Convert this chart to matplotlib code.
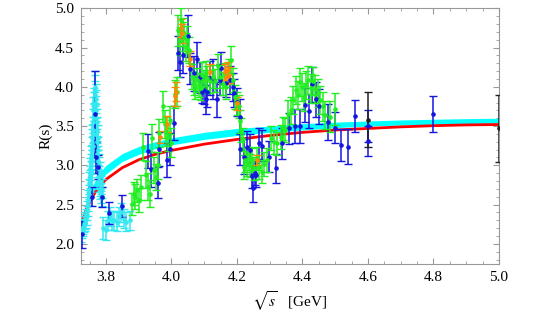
import numpy as np
import matplotlib.pyplot as plt
from matplotlib.ticker import MultipleLocator

plt.rcParams['font.family'] = ['Liberation Serif', 'DejaVu Serif']
plt.rcParams['mathtext.fontset'] = 'stix'

# --- theory curves ---
curve_E = [3.727, 3.74, 3.76, 3.78, 3.80, 3.85, 3.90, 3.95, 4.00, 4.10, 4.20,
           4.30, 4.40, 4.50, 4.60, 4.70, 4.80, 4.90, 5.00]
red_R = [2.27, 2.44, 2.61, 2.73, 2.82, 2.97, 3.07, 3.14, 3.19, 3.27, 3.33,
         3.38, 3.42, 3.45, 3.47, 3.49, 3.505, 3.515, 3.52]
cyan_hi = [2.31, 2.52, 2.75, 2.90, 3.00, 3.15, 3.24, 3.30, 3.35, 3.42, 3.47,
           3.50, 3.53, 3.55, 3.565, 3.578, 3.587, 3.595, 3.60]
cyan_lo = [2.25, 2.44, 2.64, 2.79, 2.89, 3.05, 3.14, 3.21, 3.26, 3.33, 3.38,
           3.42, 3.45, 3.48, 3.50, 3.513, 3.523, 3.532, 3.54]

# --- data sets ---
blue_E = [3.727, 3.757, 3.766, 3.771, 3.775, 3.788, 3.809, 3.849, 3.929, 3.937,
          3.958, 3.963, 3.986, 3.997, 4.008, 4.019, 4.026, 4.036, 4.050, 4.058,
          4.068, 4.079, 4.087, 4.092, 4.100, 4.105, 4.110, 4.117, 4.126, 4.138,
          4.147, 4.152, 4.168, 4.178, 4.189, 4.191, 4.200, 4.210, 4.208, 4.222,
          4.231, 4.239, 4.247, 4.250, 4.254, 4.258, 4.268, 4.276, 4.299, 4.320,
          4.339, 4.360, 4.376, 4.391, 4.407, 4.420, 4.428, 4.441, 4.449, 4.478,
          4.499, 4.519, 4.539, 4.560, 4.600, 4.600, 4.800]
blue_R = [2.12, 2.60, 3.65, 3.10, 2.98, 2.60, 2.39, 2.48, 3.18, 2.95,
          2.78, 3.21, 3.07, 3.21, 3.54, 4.43, 4.32, 4.40, 4.65, 4.23,
          4.17, 4.35, 4.12, 3.94, 3.96, 3.84, 3.94, 4.11, 4.10, 3.84,
          4.09, 4.24, 4.05, 4.09, 4.00, 3.92, 3.81, 3.62, 3.21, 3.11,
          3.24, 3.20, 2.86, 2.71, 2.90, 2.88, 3.28, 3.25, 3.11, 2.96,
          3.28, 3.47, 3.50, 3.50, 3.77, 3.69, 4.03, 3.84, 3.75, 3.55,
          3.48, 3.26, 3.24, 3.63, 3.50, 3.31, 3.65]
blue_err = [0.17, 0.12, 0.55, 0.20, 0.15, 0.13, 0.14, 0.14, 0.22, 0.22,
            0.20, 0.22, 0.22, 0.20, 0.22, 0.22, 0.20, 0.22, 0.27, 0.20,
            0.22, 0.22, 0.20, 0.15, 0.18, 0.18, 0.20, 0.22, 0.25, 0.22,
            0.20, 0.20, 0.18, 0.18, 0.18, 0.18, 0.18, 0.22, 0.20, 0.22,
            0.20, 0.20, 0.15, 0.18, 0.15, 0.15, 0.20, 0.20, 0.20, 0.18,
            0.20, 0.20, 0.22, 0.22, 0.22, 0.22, 0.22, 0.22, 0.22, 0.23,
            0.20, 0.20, 0.22, 0.20, 0.20, 0.19, 0.23]

green_E = [3.879, 3.885, 3.890, 3.895, 3.900, 3.906, 3.913, 3.921, 3.927, 3.934,
           3.942, 3.947, 3.953, 3.958, 3.963, 3.974, 3.979, 3.984, 3.989, 3.995,
           4.000, 4.010, 4.016, 4.021, 4.026, 4.029, 4.034, 4.039, 4.044, 4.049,
           4.055, 4.063, 4.068, 4.073, 4.079, 4.084, 4.089, 4.094, 4.100, 4.105,
           4.110, 4.117, 4.126, 4.134, 4.142, 4.149, 4.157, 4.163, 4.168, 4.176,
           4.181, 4.187, 4.194, 4.199, 4.205, 4.210, 4.213, 4.218, 4.222, 4.226,
           4.231, 4.236, 4.241, 4.246, 4.253, 4.260, 4.267, 4.275, 4.283, 4.292,
           4.304, 4.313, 4.323, 4.334, 4.341, 4.348, 4.357, 4.365, 4.372, 4.380,
           4.386, 4.393, 4.399, 4.404, 4.411, 4.418, 4.425, 4.432, 4.439, 4.446,
           4.453, 4.462, 4.470, 4.485, 4.498]
green_R = [2.51, 2.64, 2.60, 2.68, 2.56, 2.72, 3.24, 2.88, 2.73, 2.64,
           3.35, 2.94, 2.85, 3.00, 3.41, 3.75, 3.53, 3.43, 3.36, 3.58,
           3.29, 3.91, 3.94, 4.72, 4.58, 4.85, 4.70, 4.64, 4.51, 4.60,
           4.47, 4.13, 4.04, 3.99, 4.09, 4.02, 3.98, 4.15, 4.07, 4.17,
           4.11, 4.07, 4.13, 4.08, 4.26, 4.13, 4.04, 4.15, 4.00, 4.19,
           4.34, 4.09, 3.87, 3.79, 3.75, 3.56, 3.45, 3.33, 2.98, 3.07,
           3.02, 3.09, 3.00, 3.07, 2.96, 3.09, 2.98, 2.92, 3.02, 3.07,
           3.35, 3.30, 3.28, 3.36, 3.47, 3.45, 3.66, 3.70, 3.83, 3.96,
           3.90, 4.06, 4.00, 3.87, 4.02, 4.09, 3.98, 4.07, 3.97, 3.92,
           3.83, 3.75, 3.64, 3.62, 3.72]
green_err = [0.14, 0.15, 0.16, 0.15, 0.15, 0.16, 0.17, 0.17, 0.17, 0.17,
             0.18, 0.17, 0.17, 0.17, 0.18, 0.20, 0.18, 0.18, 0.18, 0.18,
             0.18, 0.18, 0.18, 0.20, 0.18, 0.15, 0.18, 0.18, 0.18, 0.17,
             0.17, 0.16, 0.15, 0.15, 0.15, 0.15, 0.15, 0.16, 0.15, 0.16,
             0.15, 0.15, 0.15, 0.15, 0.16, 0.15, 0.15, 0.15, 0.15, 0.16,
             0.18, 0.15, 0.15, 0.15, 0.15, 0.15, 0.15, 0.15, 0.15, 0.15,
             0.15, 0.15, 0.15, 0.15, 0.15, 0.15, 0.15, 0.15, 0.15, 0.15,
             0.15, 0.15, 0.15, 0.15, 0.15, 0.15, 0.17, 0.17, 0.18, 0.18,
             0.18, 0.18, 0.18, 0.18, 0.18, 0.18, 0.18, 0.18, 0.18, 0.18,
             0.18, 0.18, 0.18, 0.20, 0.20]

orange_E = [3.966, 3.987, 4.010, 4.013, 4.028, 4.031, 4.058, 4.117, 4.163,
            4.168, 4.172, 4.177, 4.199, 4.260]
orange_R = [3.36, 3.53, 3.88, 3.94, 4.75, 4.68, 4.36, 4.19, 4.19,
            4.13, 4.21, 4.15, 3.79, 3.07]
orange_err = [0.08, 0.10, 0.12, 0.12, 0.12, 0.12, 0.10, 0.10, 0.10,
              0.10, 0.10, 0.10, 0.08, 0.06]

# psi(3770) scan: dense points around the peak
cyan_E = [3.725, 3.727, 3.729, 3.731, 3.733, 3.735, 3.737, 3.739, 3.741, 3.743,
          3.745, 3.746, 3.747, 3.748, 3.749, 3.750, 3.751, 3.752, 3.753, 3.754,
          3.755, 3.756, 3.757, 3.758, 3.759, 3.760, 3.761, 3.762, 3.763, 3.764,
          3.765, 3.766, 3.767, 3.768, 3.769, 3.770, 3.771, 3.772, 3.773, 3.774,
          3.775, 3.776, 3.777, 3.778, 3.779, 3.780, 3.781, 3.782, 3.783, 3.784,
          3.785, 3.786, 3.787, 3.788,
          3.757, 3.759, 3.761, 3.763, 3.765, 3.767, 3.769, 3.771, 3.773, 3.775,
          3.777, 3.779,
          3.792, 3.800, 3.806, 3.812, 3.818, 3.826, 3.833, 3.840, 3.846, 3.855,
          3.862, 3.872]
cyan_R = [2.12, 2.18, 2.20, 2.22, 2.25, 2.27, 2.30, 2.32, 2.36, 2.42,
          2.48, 2.55, 2.62, 2.70, 2.78, 2.85, 2.80, 2.95, 3.00, 2.90,
          3.10, 3.05, 3.20, 3.35, 3.30, 3.45, 3.55, 3.70, 3.62, 3.80,
          3.75, 3.90, 3.95, 4.00, 3.85, 3.70, 3.78, 3.55, 3.45, 3.30,
          3.35, 3.20, 3.10, 2.95, 3.00, 2.85, 2.90, 2.75, 2.70, 2.80,
          2.65, 2.75, 2.60, 2.70,
          2.90, 3.10, 3.25, 3.40, 3.60, 3.75, 3.60, 3.40, 3.15, 3.05,
          2.85, 2.80,
          2.20, 2.18, 2.30, 2.35, 2.30, 2.30, 2.28, 2.35, 2.40, 2.32,
          2.28, 2.30]
cyan_err = [0.10, 0.10, 0.10, 0.10, 0.10, 0.11, 0.11, 0.12, 0.12, 0.12,
            0.12, 0.13, 0.13, 0.13, 0.14, 0.14, 0.14, 0.14, 0.15, 0.15,
            0.15, 0.15, 0.16, 0.16, 0.16, 0.16, 0.17, 0.17, 0.17, 0.18,
            0.18, 0.18, 0.20, 0.20, 0.18, 0.18, 0.18, 0.17, 0.17, 0.16,
            0.16, 0.16, 0.15, 0.15, 0.15, 0.14, 0.14, 0.14, 0.13, 0.13,
            0.13, 0.12, 0.12, 0.12,
            0.15, 0.16, 0.16, 0.17, 0.18, 0.18, 0.18, 0.17, 0.16, 0.15,
            0.15, 0.14,
            0.14, 0.13, 0.12, 0.12, 0.12, 0.12, 0.12, 0.12, 0.12, 0.12,
            0.12, 0.12]

black_E = [4.600, 5.000]
black_R = [3.58, 3.47]
black_err = [0.35, 0.43]

fig = plt.figure(figsize=(5.38, 3.19), dpi=100)
ax = fig.add_axes([0.1506, 0.1715, 0.7769, 0.8025])

ax.fill_between(curve_E, cyan_lo, cyan_hi, color='#00ffff', lw=0, zorder=2)
ax.plot(curve_E, red_R, color='#ff0000', lw=2.0, zorder=3)

eb = dict(fmt='o', ms=2.3, capsize=3.2, elinewidth=1.1, capthick=1.0, zorder=4)
ax.errorbar(cyan_E, cyan_R, yerr=cyan_err, color='#33e8f0', **eb)
ax.errorbar(blue_E, blue_R, yerr=blue_err, color='#1515e0', **eb)
ax.errorbar(green_E, green_R, yerr=green_err, color='#22ee22', **eb)
ax.errorbar(orange_E, orange_R, yerr=orange_err, color='#ff8800', **eb)
ax.errorbar(black_E, black_R, yerr=black_err, color='#222222', **eb)

ax.set_xlim(3.724, 5.0)
ax.set_ylim(1.74, 5.0)
ax.xaxis.set_major_locator(MultipleLocator(0.2))
ax.xaxis.set_minor_locator(MultipleLocator(0.05))
ax.yaxis.set_major_locator(MultipleLocator(0.5))
ax.yaxis.set_minor_locator(MultipleLocator(0.1))
ax.xaxis.set_major_formatter(plt.FormatStrFormatter('%.1f'))
ax.yaxis.set_major_formatter(plt.FormatStrFormatter('%.1f'))
ax.tick_params(which='both', direction='in', top=True, right=True,
               color='#999999', labelsize=11, pad=5)
ax.tick_params(which='major', length=4, width=0.8)
ax.tick_params(which='minor', length=2, width=0.6)
for s in ax.spines.values():
    s.set_color('#999999')
    s.set_linewidth(0.8)

ax.set_xlabel(r'$\sqrt{s}$   [GeV]', fontsize=11, labelpad=4)
ax.set_ylabel('R(s)', fontsize=11, labelpad=2)

fig.savefig('out.png', dpi=100)
